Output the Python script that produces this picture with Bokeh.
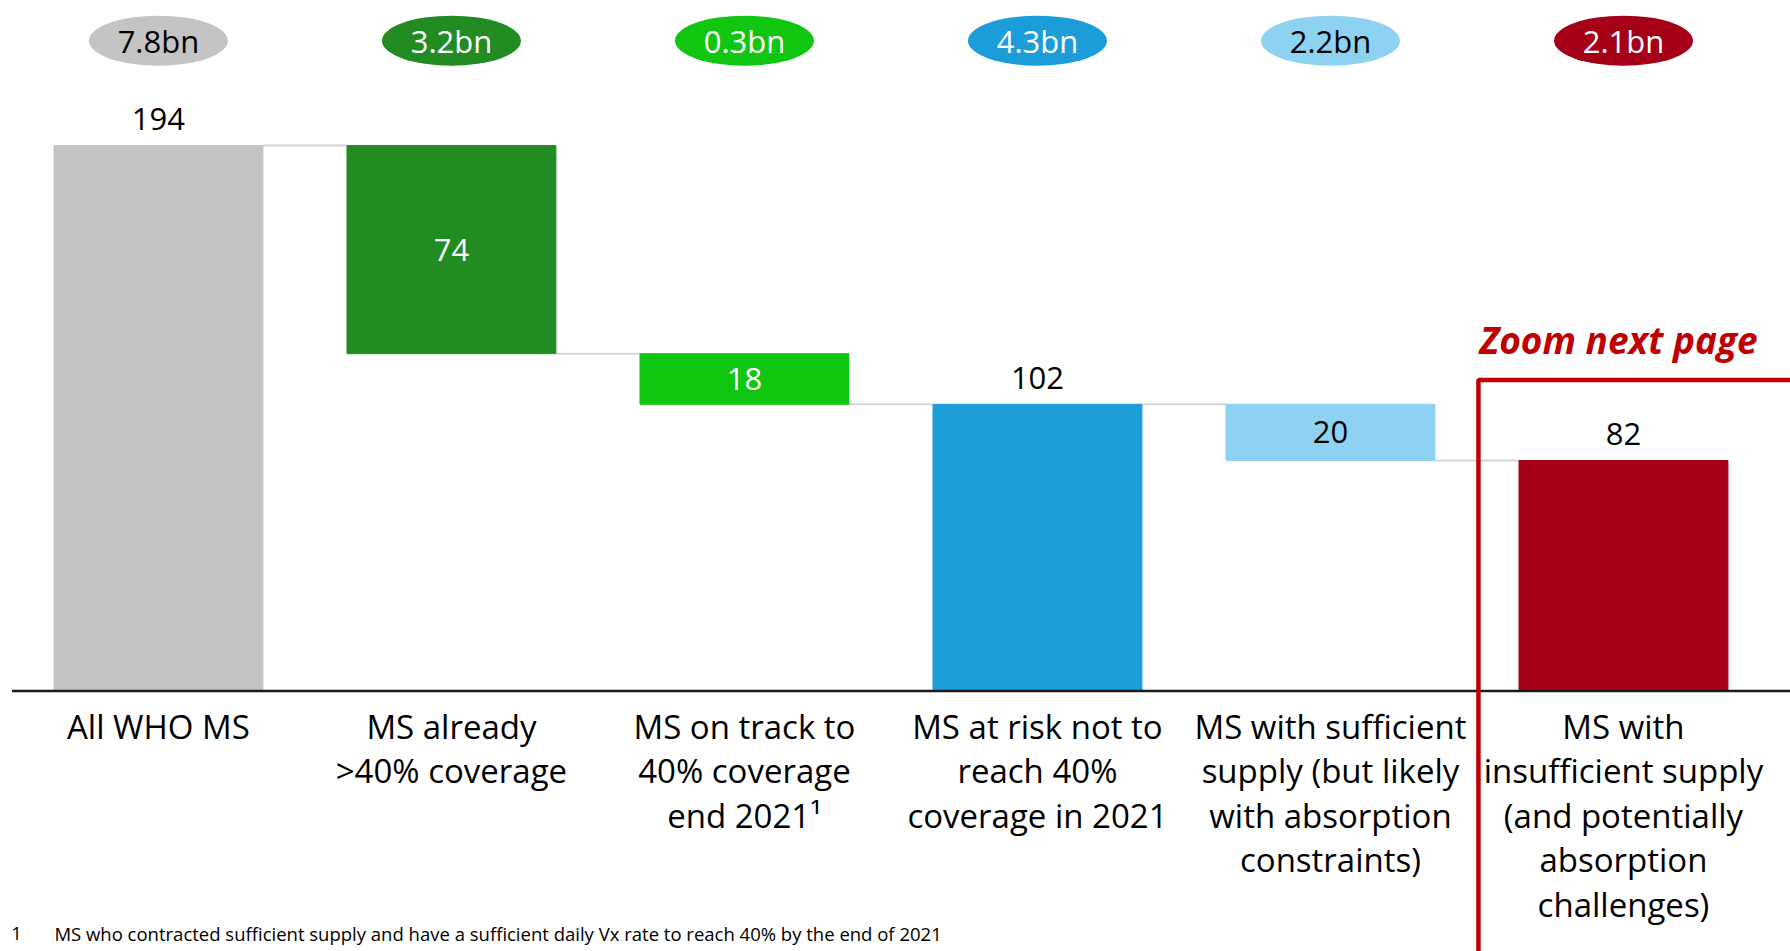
from bokeh.plotting import figure
from bokeh.models import ColumnDataSource
from bokeh.core.properties import value
from bokeh.embed import file_html
from bokeh.resources import INLINE

categories = [
    "All WHO MS",
    "MS already\n>40% coverage",
    "MS on track to\n40% coverage\nend 2021\u00b9",
    "MS at risk not to\nreach 40%\ncoverage in 2021",
    "MS with sufficient\nsupply (but likely\nwith absorption\nconstraints)",
    "MS with\ninsufficient supply\n(and potentially\nabsorption\nchallenges)",
]
values = [194, 74, 18, 102, 20, 82]
kinds = ["total", "step", "step", "total", "step", "total"]
population = ["7.8bn", "3.2bn", "0.3bn", "4.3bn", "2.2bn", "2.1bn"]
colors = ["#C4C4C4", "#228B22", "#10C610", "#1C9DD9", "#8DD2F1", "#A50018"]
bubble_text_colors = ["black", "white", "white", "white", "black", "white"]
label_colors = ["black", "white", "white", "black", "black", "black"]
footnote_mark = "1"
footnote = "MS who contracted sufficient supply and have a sufficient daily Vx rate to reach 40% by the end of 2021"

FONT = "Open Sans"
BAR_W = 0.713

# waterfall geometry
bottoms, tops, levels = [], [], []
level = 0
for v, k in zip(values, kinds):
    if k == "total":
        bottoms.append(0); tops.append(v); level = v
    else:
        tops.append(level); bottoms.append(level - v); level = level - v
    levels.append(level)

xs = list(range(len(values)))
label_y, label_base = [], []
for i, k in enumerate(kinds):
    if k == "total":
        label_y.append(tops[i] + 5.5); label_base.append("bottom")
    else:
        label_y.append((tops[i] + bottoms[i]) / 2); label_base.append("middle")

src = ColumnDataSource(dict(x=xs, bottom=bottoms, top=tops, color=colors,
                            val=[str(v) for v in values], ly=label_y, lbase=label_base,
                            lcol=label_colors, cat=categories, pop=population,
                            pcol=bubble_text_colors))

p = figure(width=1790, height=951, x_range=(-0.539, 5.570), y_range=(-92.6, 245.6),
           output_backend="svg", toolbar_location=None, min_border=0)
p.axis.visible = False
p.grid.visible = False
p.outline_line_color = None
p.background_fill_color = "white"

# connectors
cx0 = [i + BAR_W / 2 for i in xs[:-1]]
cx1 = [i + 1 - BAR_W / 2 for i in xs[:-1]]
p.segment(x0=cx0, y0=levels[:-1], x1=cx1, y1=levels[:-1], line_color="#D6D6D6", line_width=2)

p.vbar(x="x", bottom="bottom", top="top", width=BAR_W, color="color", source=src)

# baseline axis
p.segment(x0=[-0.5], y0=[0], x1=[6], y1=[0], line_color="#1a1a1a", line_width=2.5)

# value labels
p.text(x="x", y="ly", text="val", text_color="lcol", text_align="center",
       text_baseline="lbase", text_font=value(FONT), text_font_size="31px", source=src)

# bubbles
p.ellipse(x="x", y=231.3, width=139, height=50, width_units="screen",
          height_units="screen", fill_color="color", line_color=None, source=src)
p.text(x="x", y=231.3, text="pop", text_color="pcol", text_align="center",
       text_baseline="middle", text_font=value(FONT), text_font_size="31px", source=src)

# category labels
p.text(x="x", y=-4.5, text="cat", text_align="center", text_baseline="top",
       text_font=value(FONT), text_font_size="33px", text_line_height=0.99,
       text_color="black", source=src)

# zoom box
p.line(x=[4.505, 4.505, 7], y=[-200, 110.6, 110.6], line_color="#C00000", line_width=4.5)
p.text(x=[4.983], y=[125], text=["Zoom next page"], text_align="center",
       text_baseline="middle", text_font=value(FONT), text_font_size="37px",
       text_font_style="bold italic", text_color="#C00000")

# footnote
p.text(x=[-0.502], y=[-88.6], text=[footnote_mark], text_baseline="bottom",
       text_font=value(FONT), text_font_size="18.5px", text_color="black")
p.text(x=[-0.355], y=[-90.6], text=[footnote], text_baseline="bottom", text_font=value(FONT),
       text_font_size="18.5px", text_color="black")

open("out.html", "w").write(file_html(p, INLINE))
